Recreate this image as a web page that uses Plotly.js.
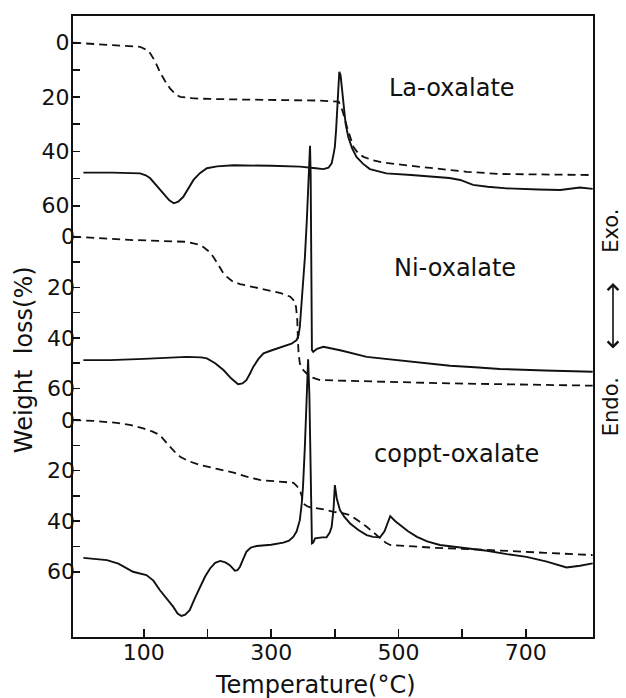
<!DOCTYPE html>
<html>
<head>
<meta charset="utf-8">
<script src="https://cdn.plot.ly/plotly-3.0.1.min.js"></script>
<style>html,body{margin:0;padding:0;background:#fff;}#chart{width:626px;height:698px;}</style>
</head>
<body>
<div id="chart"></div>
<script>
// ---- Data (temperature in °C, weight loss in %) ----
// La-oxalate
const laTgT  = [-11,40,94,103,110,118,125,133,141,150,157,175,188,250,300,345,377,406,412,419,424,429,436,445,460,476,515,555,607,659,730,805];
const laTgV  = [0,0.8,1.5,2.5,3.9,7,10.7,14,16.8,19,19.9,20.4,20.6,20.9,21.0,21.1,21.3,21.7,25,30.9,35,38.3,40.5,42,43.3,44.1,45.2,46.2,47.5,48.3,48.6,48.7];
const laDtaT = [5,50,94,103,110,120,131,140,147,154,162,170,178,188,199,215,241,300,345,370,382,390,395,398,400,402,404,406,407,409,411,414,417,421,427,434,444,455,481,520,555,580,597,607,617,640,670,720,754,785,805];
const laDtaV = [47.8,47.8,48.1,48.8,49.9,52.5,55.4,58,59.1,58.5,56.7,53.5,50.5,48,46.2,45.5,45.1,45.3,45.6,46.2,46.5,46,44.4,41,38.3,32,24.8,14,10.7,12,16.2,24.8,30,34.6,38.8,42,44.5,46.5,48.1,48.7,49.3,49.8,50.5,51.5,52.3,53,53.6,54,54.2,53.3,53.8];
// Ni-oxalate
const niTgT  = [-11,40,83,130,167,185,193,202,209,218,225,230,240,251,270,293,315,330,336,339,341,342,343,345,349,353,362,377,450,502,580,659,730,805];
const niTgV  = [0,0.8,1.3,1.7,2,3,4,5.8,7.9,11.5,14.5,15.8,17.8,18.7,19.7,21.1,22.3,23.7,25.3,27.7,33,40.9,46,50.1,52.3,53.4,55.5,56.7,57.2,57.6,58,58.3,58.6,58.9];
const niDtaT = [5,47,100,167,190,199,212,225,237,248,255,261,267,272,280,288,300,319,332,340,343,345,348,350,353,356,359,361,362,363,364,366,372,382,410,450,500,540,581,620,659,730,805];
const niDtaV = [48.8,48.8,48.3,47.5,47.7,48.1,50,52.7,56,58.3,58,56.7,54,51.4,48.3,46.1,45,43.5,42.3,40.9,39,35.6,26,19.8,8,-6.6,-25,-36,-25,10,44.8,45.5,44.3,43.5,45,47.5,48.8,49.8,51,51.6,52.3,52.9,53.4];
// coppt-oxalate
const coTgT  = [-11,20,57,80,99,113,125,133,141,150,157,170,188,215,241,260,282,310,335,340,345,348,350,356,361,380,398,412,424,437,450,468,480,487,520,555,610,659,730,805];
const coTgV  = [0,0.3,1.1,2,3.3,4.5,5.9,8,10.5,13,14.5,16.2,17.8,19.3,20.8,22.3,23.7,24.3,24.8,26,27.7,30,33,34,34.5,35.2,36.3,36.8,37.6,39.8,42.2,46,48.5,49.4,50,50.5,51,51.7,52.5,53.4];
const coDtaT = [5,42,60,83,104,115,125,136,146,153,159,165,172,180,188,196,204,212,220,228,235,243,247,251,256,261,268,277,300,319,328,335,340,345,348,350,353,356,358,360,362,364,366,369,380,387,392,395,398,400,403,408,415,424,437,450,460,471,478,487,495,502,515,529,545,565,600,639,670,701,733,764,785,805];
const coDtaV = [54.5,55.4,56.8,60,61.3,63.5,67.2,70.5,73.8,76.5,77.5,77,75.2,70.5,65.9,62,58.7,56.5,55.7,56.3,57.4,59.6,59.4,58,55,52.1,50.4,49.8,49.3,48.5,47.7,46.1,44,39.6,33,26.4,10,-10,-24,-10,20,48.8,48.5,46.8,46.4,46.4,44.5,42.2,35,25.7,31,35.6,38.3,40.9,43.5,45.5,46.2,46.4,44,38,40,41.5,44,46.2,48,49.4,50.5,51.7,53,54.1,56,58.3,57.6,56.7];

const xTickVals = [100,200,300,400,500,600,700];
const xTickText = ['100','','300','','500','','700'];
const yTickVals = [0,10,20,30,40,50,60];
const yTickText = ['0','','20','','40','','60'];
const panelNames = ['La-oxalate','Ni-oxalate','coppt-oxalate'];

// ---- Styles ----
const INK = '#111';
const FONT = 'DejaVu Sans, sans-serif';
const tgLine  = {color: INK, width: 1.8, dash: '8px,5px'};
const dtaLine = {color: INK, width: 1.9};

function tr(x, y, axis, line) {
  return {x: x, y: y, yaxis: axis, type: 'scatter', mode: 'lines', line: line,
          hoverinfo: 'skip', showlegend: false};
}
const data = [
  tr(laTgT, laTgV, 'y', tgLine), tr(laDtaT, laDtaV, 'y', dtaLine),
  tr(niTgT, niTgV, 'y2', tgLine), tr(niDtaT, niDtaV, 'y2', dtaLine),
  tr(coTgT, coTgV, 'y3', tgLine), tr(coDtaT, coDtaV, 'y3', dtaLine)
];

function yAx(range, extra) {
  return Object.assign({
    range: range, tickmode: 'array', tickvals: yTickVals, ticktext: yTickText,
    ticks: 'inside', ticklen: 7, tickwidth: 1.6, tickcolor: INK,
    showgrid: false, zeroline: false,
    tickfont: {family: FONT, size: 22, color: INK}, ticklabelstandoff: -3
  }, extra);
}

function note(text, x, y, size, angle) {
  return {text: text, xref: 'paper', yref: 'paper', x: x, y: y, showarrow: false,
          xanchor: 'center', yanchor: 'middle', textangle: angle || 0,
          font: {family: FONT, size: size, color: INK}};
}

const layout = {
  width: 626, height: 698,
  margin: {l: 73, r: 33, t: 16, b: 61},
  paper_bgcolor: '#fff', plot_bgcolor: '#fff',
  showlegend: false,
  xaxis: {
    range: [-11.3, 805.5], tickmode: 'array', tickvals: xTickVals, ticktext: xTickText,
    ticks: 'inside', ticklen: 8, tickwidth: 1.6, tickcolor: INK,
    showline: true, linecolor: INK, linewidth: 2, mirror: true,
    showgrid: false, zeroline: false,
    tickfont: {family: FONT, size: 22, color: INK}, ticklabelstandoff: -5
  },
  yaxis:  yAx([218.7, -9.83], {showline: true, linecolor: INK, linewidth: 2, mirror: true}),
  yaxis2: yAx([158.3, -87.3], {overlaying: 'y', anchor: 'x', side: 'left', showline: false}),
  yaxis3: yAx([85.8, -159.8], {overlaying: 'y', anchor: 'x', side: 'left', showline: false}),
  annotations: [
    note(panelNames[0], 0.729, 0.884, 24),
    note(panelNames[1], 0.735, 0.594, 24),
    note(panelNames[2], 0.738, 0.295, 24),
    note('Temperature(°C)', 0.467, -0.077, 24),
    note('Weight  loss(%)', -0.094, 0.446, 24, -90),
    note('Exo.', (611 - 73) / 520, 0.654, 21, -90),
    note('Endo.', (611 - 73) / 520, 0.370, 21, -90),
    // double-headed arrow between Endo. and Exo.
    {xref: 'paper', yref: 'paper', x: (613 - 73) / 520, y: (637 - 283) / 621, ax: 0, ay: 67,
     axref: 'pixel', ayref: 'pixel', text: '', showarrow: true,
     arrowhead: 4, startarrowhead: 4, arrowside: 'end+start',
     arrowsize: 1.3, startarrowsize: 1.3, arrowwidth: 1.6, arrowcolor: INK}
  ]
};

Plotly.newPlot('chart', data, layout, {staticPlot: true, displayModeBar: false});
</script>
</body>
</html>
